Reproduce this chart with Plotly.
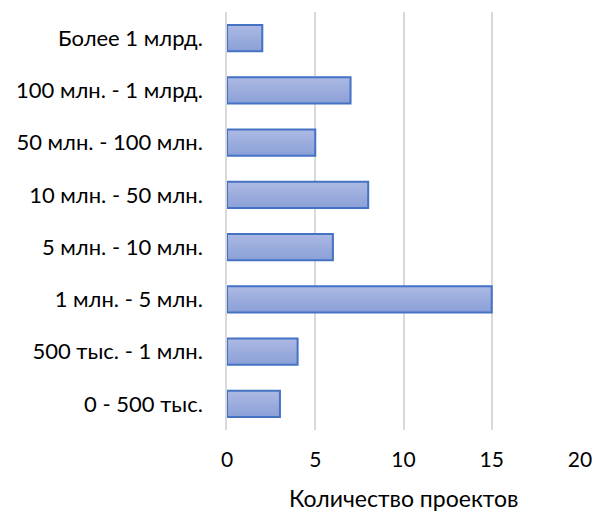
import plotly.graph_objects as go

# Project size brackets (bottom to top) and number of projects in each
categories = [
    "0 - 500 тыс.",
    "500 тыс. - 1 млн.",
    "1 млн. - 5 млн.",
    "5 млн. - 10 млн.",
    "10 млн. - 50 млн.",
    "50 млн. - 100 млн.",
    "100 млн. - 1 млрд.",
    "Более 1 млрд.",
]
counts = [3, 4, 15, 6, 8, 5, 7, 2]

x_ticks = [0, 5, 10, 15, 20]
x_title = "Количество проектов"

BAR_W = 0.5
N_STRIPES = 14
TOP_RGB = (170, 184, 226)
BOT_RGB = (139, 160, 216)

fig = go.Figure()

# vertical gradient fill built from thin horizontal stripes
for i in range(N_STRIPES):
    t = i / (N_STRIPES - 1)
    r = round(BOT_RGB[0] + (TOP_RGB[0] - BOT_RGB[0]) * t)
    g = round(BOT_RGB[1] + (TOP_RGB[1] - BOT_RGB[1]) * t)
    b = round(BOT_RGB[2] + (TOP_RGB[2] - BOT_RGB[2]) * t)
    fig.add_trace(go.Bar(
        y=categories, x=counts, orientation="h",
        width=BAR_W / N_STRIPES * 1.05,
        offset=-BAR_W / 2 + i * BAR_W / N_STRIPES,
        marker=dict(color=f"rgb({r},{g},{b})", line=dict(width=0)),
        hoverinfo="skip", showlegend=False,
    ))

# outline
fig.add_trace(go.Bar(
    y=categories, x=counts, orientation="h",
    width=BAR_W,
    marker=dict(color="rgba(0,0,0,0)", line=dict(color="#4472C4", width=2)),
    showlegend=False,
))

# axis title placed near the bottom edge
fig.add_annotation(
    text=x_title, xref="paper", yref="paper",
    x=0.5, y=-0.163, xanchor="center", yanchor="middle",
    showarrow=False, font=dict(size=23),
)

fig.update_layout(
    barmode="overlay",
    width=600, height=512,
    margin=dict(l=227, r=20, t=12, b=82),
    paper_bgcolor="white", plot_bgcolor="white",
    font=dict(family="Lato, 'Open Sans', sans-serif", size=21, color="#000000"),
    xaxis=dict(
        range=[0, 20], tickvals=x_ticks, automargin=False,
        showgrid=True, gridcolor="#D9D9D9", gridwidth=1.5,
        zeroline=False, showline=False,
        ticks="", ticklabelstandoff=15,
        tickfont=dict(size=21),
    ),
    yaxis=dict(
        type="category", categoryorder="array", categoryarray=categories,
        range=[-0.5, 7.5], automargin=False,
        showgrid=False, zeroline=False,
        showline=True, linecolor="#D9D9D9", linewidth=1.5,
        ticks="", ticklabelstandoff=18,
        tickfont=dict(size=22),
    ),
)

fig.write_html("out.html")
